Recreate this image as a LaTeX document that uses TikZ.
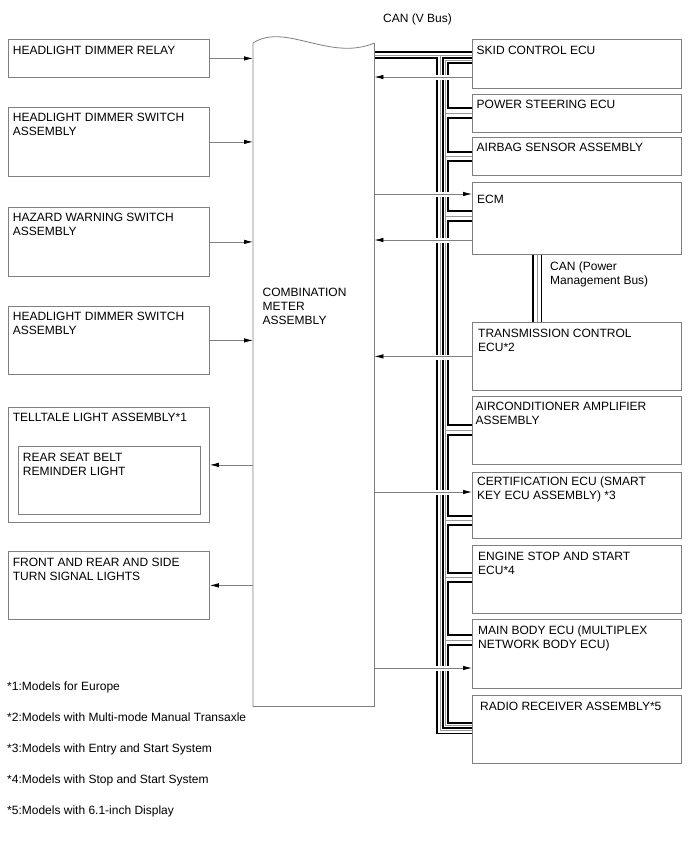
\documentclass[tikz,border=0pt]{standalone}
\usepackage{fontspec}
\setmainfont{Liberation Sans}
\usepackage{xcolor}
\definecolor{lineGrey}{HTML}{7F7F7F}
\definecolor{coreGrey}{HTML}{999999}
\usepackage{tikz}
\usetikzlibrary{arrows.meta}
\tikzset{arrow/.style = {> = {Latex[length = 9pt, width = 4.5pt, color = black]}}}
\usetikzlibrary{positioning}
\tikzset{
	unit/.style = {draw = lineGrey, line width = 0.8pt, anchor = north west, inner sep = 0pt, minimum width = 201pt},
	ecu/.style = {draw = lineGrey, line width = 0.8pt, anchor = north west, inner sep = 0pt, minimum width = 209pt},
	txt/.style = {font = \fontsize{12}{14}\selectfont, align = left, inner sep = 0pt, anchor = base west},
	sig/.style = {arrow, ->, draw = lineGrey, line width = 0.8pt},
	wire/.style = {draw = black, line width = 1.8pt, line join = miter},
	core/.style = {draw = coreGrey, line width = 0.6pt},
	gap/.style = {draw = white, line width = 5pt}
}

\begin{document}
\begin{tikzpicture}[x = 1pt, y = -1pt]
	\useasboundingbox (0, 0) rectangle (688, 852);

	%% Combination meter
	\node[anchor = north west, inner sep = 0pt, minimum width = 121pt, minimum height = 663pt] (meter) at (253, 43) {};
	% (base of a multi-line label is its last line)
	\node[txt, below right = 281pt and 9.5pt of meter.north west, anchor = base west] {COMBINATION\\METER\\ASSEMBLY};

	%% Left column
	\node[unit, minimum height = 38pt] (relay) at (8, 39) {};
	\node[unit, minimum height = 69pt] (dimmer) at (8, 107) {};
	\node[unit, minimum height = 69pt] (hazard) at (8, 207) {};
	\node[unit, minimum height = 68pt] (dimmertwo) at (8, 306) {};
	\node[unit, minimum height = 115pt] (telltale) at (8, 407) {};
	\node[unit, minimum width = 182pt, minimum height = 68pt] (beltlamp) at (18, 446) {};
	\node[unit, minimum height = 68pt] (turn) at (8, 551) {};

	\node[txt, below right = 15.5pt and 4.7pt of relay.north west, anchor = base west] {HEADLIGHT DIMMER RELAY};
	\node[txt, below right = 28pt and 4.7pt of dimmer.north west, anchor = base west] {HEADLIGHT DIMMER SWITCH\\ASSEMBLY};
	\node[txt, below right = 28.5pt and 4.7pt of hazard.north west, anchor = base west] {HAZARD WARNING SWITCH\\ASSEMBLY};
	\node[txt, below right = 28pt and 4.7pt of dimmertwo.north west, anchor = base west] {HEADLIGHT DIMMER SWITCH\\ASSEMBLY};
	\node[txt, below right = 14.5pt and 4.7pt of telltale.north west, anchor = base west] {TELLTALE LIGHT ASSEMBLY*1};
	\node[txt, below right = 29.5pt and 4.7pt of beltlamp.north west, anchor = base west] {REAR SEAT BELT\\REMINDER LIGHT};
	\node[txt, below right = 29pt and 4.7pt of turn.north west, anchor = base west] {FRONT AND REAR AND SIDE\\TURN SIGNAL LIGHTS};

	%% Right column
	\node[ecu, minimum height = 49pt] (skid) at (472, 39) {};
	\node[ecu, minimum height = 38pt] (steer) at (472, 94) {};
	\node[ecu, minimum height = 38pt] (airbag) at (472, 137) {};
	\node[ecu, minimum height = 72pt] (ecm) at (472, 182) {};
	\node[ecu, minimum height = 68pt] (trans) at (472, 322) {};
	\node[ecu, minimum height = 68pt] (aircon) at (472, 396) {};
	\node[ecu, minimum height = 66pt] (cert) at (472, 472) {};
	\node[ecu, minimum height = 68pt] (engine) at (472, 545) {};
	\node[ecu, minimum height = 69pt] (body) at (472, 619) {};
	\node[ecu, minimum height = 68pt] (radio) at (472, 695) {};

	\node[txt, below right = 15pt and 4.5pt of skid.north west, anchor = base west] {SKID CONTROL ECU};
	\node[txt, below right = 14pt and 4.5pt of steer.north west, anchor = base west] {POWER STEERING ECU};
	\node[txt, below right = 14pt and 4.5pt of airbag.north west, anchor = base west] {AIRBAG SENSOR ASSEMBLY};
	\node[txt, below right = 21.5pt and 5pt of ecm.north west, anchor = base west] {ECM};
	\node[txt, below right = 29pt and 6pt of trans.north west, anchor = base west] {TRANSMISSION CONTROL\\ECU*2};
	\node[txt, below right = 28.5pt and 3.5pt of aircon.north west, anchor = base west] {AIRCONDITIONER AMPLIFIER\\ASSEMBLY};
	\node[txt, below right = 27.5pt and 5pt of cert.north west, anchor = base west] {CERTIFICATION ECU (SMART\\KEY ECU ASSEMBLY) *3};
	\node[txt, below right = 29pt and 6pt of engine.north west, anchor = base west] {ENGINE STOP AND START\\ECU*4};
	\node[txt, below right = 29pt and 6pt of body.north west, anchor = base west] {MAIN BODY ECU (MULTIPLEX\\NETWORK BODY ECU)};
	\node[txt, below right = 15pt and 8pt of radio.north west, anchor = base west] {RADIO RECEIVER ASSEMBLY*5};

	%% CAN (V Bus)
	\node[txt] (vbus) at (383, 22.5) {CAN (V Bus)};
	% outer pair: meter to skid control ECU, down to radio receiver
	\draw[wire] (meter.east |- 0,52.3) -- (skid.west |- 0,52.3);
	\draw[wire] (meter.east |- 0,57.7) -| (437.2,733.4) -- (radio.west |- 0,733.4);
	\draw[wire] (skid.west |- 0,57.7) -| (442.6,728) -- (radio.west |- 0,728);
	\draw[core] (meter.east |- 0,55) -- (skid.west |- 0,55);
	\draw[core] (439.9,55) |- (radio.west |- 0,730.7);
	% inner pair with a branch into each ECU
	\draw[core] (skid.west |- 0,60.4) -| (445.2,725.3) -- (radio.west |- 0,725.3);
	\draw[core] (445.2,113) -- (steer.west |- 0,113)
		(445.2,156.3) -- (airbag.west |- 0,156.3)
		(445.2,216) -- (ecm.west |- 0,216)
		(445.2,430) -- (aircon.west |- 0,430)
		(445.2,520.5) -- (cert.west |- 0,520.5)
		(445.2,577.5) -- (engine.west |- 0,577.5)
		(445.2,640) -- (body.west |- 0,640);
	\draw[wire] (skid.west |- 0,63.1) -| (447.8,108.3) -- (steer.west |- 0,108.3)
		(steer.west |- 0,117.7) -| (447.8,151.6) -- (airbag.west |- 0,151.6)
		(airbag.west |- 0,161) -| (447.8,211.3) -- (ecm.west |- 0,211.3)
		(ecm.west |- 0,220.7) -| (447.8,425.3) -- (aircon.west |- 0,425.3)
		(aircon.west |- 0,434.7) -| (447.8,515.8) -- (cert.west |- 0,515.8)
		(cert.west |- 0,525.2) -| (447.8,572.8) -- (engine.west |- 0,572.8)
		(engine.west |- 0,582.2) -| (447.8,635.3) -- (body.west |- 0,635.3)
		(body.west |- 0,644.7) -| (447.8,722.6) -- (radio.west |- 0,722.6);

	%% CAN (Power Management Bus)
	\draw[wire] (ecm.south -| 533,0) -- (trans.north -| 533,0)
		(ecm.south -| 541.5,0) -- (trans.north -| 541.5,0);
	\draw[core] (ecm.south -| 537.2,0) -- (trans.north -| 537.2,0);
	\node[txt] (pmbus) at (550, 284) {CAN (Power\\Management Bus)};

	%% Signals
	\draw[sig] (relay) -- (relay -| meter.west);
	\draw[sig] (dimmer) -- (dimmer -| meter.west);
	\draw[sig] (hazard) -- (hazard -| meter.west);
	\draw[sig] (dimmertwo) -- (dimmertwo -| meter.west);
	\draw[sig] (telltale -| meter.west) -- (telltale);
	\draw[sig] (turn -| meter.west) -- (turn);

	\draw[gap] (435,77) -- (450,77) (435,194) -- (450,194) (435,240) -- (450,240)
		(435,357) -- (450,357) (435,492) -- (450,492) (435,668) -- (450,668);
	\draw[sig] (skid.west |- 0,77) -- (meter.east |- 0,77);
	\draw[sig] (meter.east |- 0,194) -- (ecm.west |- 0,194);
	\draw[sig] (ecm.west |- 0,240) -- (meter.east |- 0,240);
	\draw[sig] (trans) -- (trans -| meter.east);
	\draw[sig] (meter.east |- 0,492) -- (cert.west |- 0,492);
	\draw[sig] (meter.east |- 0,668) -- (body.west |- 0,668);

	% meter outline with torn top edge
	\draw[draw = lineGrey, line width = 0.8pt] (meter.north east) -- (meter.south east) -- (meter.south west) -- (meter.north west)
		.. controls (285, 22) and (330, 62) .. (meter.north east);

	%% Notes
	\node[txt] (note1) at (7, 690) {*1:Models for Europe};
	\node[txt] (note2) at (7, 721) {*2:Models with Multi-mode Manual Transaxle};
	\node[txt] (note3) at (7, 752) {*3:Models with Entry and Start System};
	\node[txt] (note4) at (7, 783) {*4:Models with Stop and Start System};
	\node[txt] (note5) at (7, 814) {*5:Models with 6.1-inch Display};
\end{tikzpicture}
\end{document}
